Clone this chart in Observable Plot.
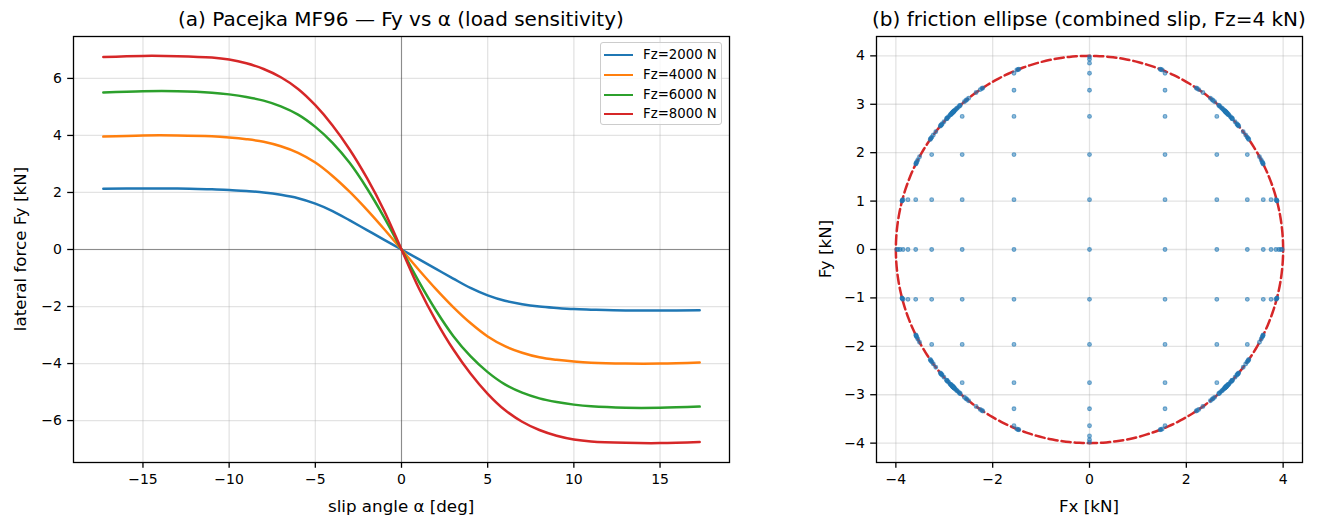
<!DOCTYPE html>
<html>
<head>
<meta charset="utf-8">
<script src="https://cdn.jsdelivr.net/npm/d3@7"></script>
<script src="https://cdn.jsdelivr.net/npm/@observablehq/plot@0.6"></script>
<style>
  html, body { margin: 0; padding: 0; background: #fff; }
  #fig { position: relative; width: 1318px; height: 528px; font-family: "DejaVu Sans", sans-serif; color: #000; overflow: hidden; }
  #fig svg { position: absolute; top: 0; }
  .lbl { position: absolute; white-space: nowrap; text-align: center; }
  .title { font-size: 20px; line-height: 24px; }
  .axlbl { font-size: 16.7px; line-height: 20px; }
  .legend { position: absolute; left: 600px; top: 42px; width: 122px; height: 83px; box-sizing: border-box;
            border: 1px solid #cccccc; border-radius: 3px; background: rgba(255,255,255,0.8); }
  .legend .row { position: absolute; left: 0; height: 20px; font-size: 13.3px; line-height: 20px; }
  .legend .sw { position: absolute; left: 3px; top: 9px; width: 29px; height: 2px; }
  .legend .tx { position: absolute; left: 42px; top: 0; white-space: nowrap; }
</style>
</head>
<body>
<div id="fig"></div>
<script>
// ---- (a) pure lateral slip, MF96 for four vertical loads ----
const alphaDeg = [-17.3, -15, -13, -11, -10, -9, -8, -7, -6, -5, -4, -3, -2, -1, 0,
                  1, 2, 3, 4, 5, 6, 7, 8, 9, 10, 11, 13, 15, 17.3];
const fy2000 = [2.13, 2.14, 2.14, 2.11, 2.09, 2.05, 2.00, 1.92, 1.80, 1.61, 1.35, 1.02, 0.68, 0.34, 0,
                -0.34, -0.68, -1.02, -1.35, -1.61, -1.80, -1.92, -2.00, -2.05, -2.09, -2.11, -2.14, -2.14, -2.13];
const fy4000 = [3.96, 4.00, 4.00, 3.97, 3.93, 3.87, 3.78, 3.62, 3.39, 3.05, 2.58, 2.02, 1.39, 0.71, 0,
                -0.71, -1.39, -2.02, -2.58, -3.05, -3.39, -3.62, -3.78, -3.87, -3.93, -3.97, -4.00, -4.00, -3.96];
const fy6000 = [5.51, 5.55, 5.55, 5.50, 5.44, 5.35, 5.22, 5.02, 4.73, 4.30, 3.74, 3.03, 2.14, 1.12, 0,
                -1.12, -2.14, -3.03, -3.74, -4.30, -4.73, -5.02, -5.22, -5.35, -5.44, -5.50, -5.55, -5.55, -5.51];
const fy8000 = [6.75, 6.79, 6.78, 6.73, 6.66, 6.53, 6.33, 6.04, 5.63, 5.06, 4.35, 3.50, 2.50, 1.35, 0,
                -1.35, -2.50, -3.50, -4.35, -5.06, -5.63, -6.04, -6.33, -6.53, -6.66, -6.73, -6.78, -6.79, -6.75];
const loadLabels = ["Fz=2000 N", "Fz=4000 N", "Fz=6000 N", "Fz=8000 N"];
const loadColors = ["#1f77b4", "#ff7f0e", "#2ca02c", "#d62728"];
const loadSeries = [fy2000, fy4000, fy6000, fy8000];
const xTicksA = [-15, -10, -5, 0, 5, 10, 15];
const yTicksA = [-6, -4, -2, 0, 2, 4, 6];

// ---- (b) combined slip at Fz = 4 kN ----
const fxLevels = [-3.98, -3.95, -3.91, -3.85, -3.75, -3.59, -3.26, -2.63, -1.56, 0,
                  1.56, 2.63, 3.26, 3.59, 3.75, 3.85, 3.91, 3.95, 3.98];
const fyLevels = [-3.98, -3.93, -3.85, -3.64, -3.29, -2.75, -1.96, -1.03, 0,
                  1.03, 1.96, 2.75, 3.29, 3.64, 3.85, 3.93, 3.98];
const muFz = 4; // friction limit, kN
const xTicksB = [-4, -2, 0, 2, 4];
const yTicksB = [-4, -3, -2, -1, 0, 1, 2, 3, 4];

const fmt = d3.format("d");
const font = "DejaVu Sans";
const gridStyle = {stroke: "#b0b0b0", strokeOpacity: 0.35, strokeWidth: 1.3};
const axisStyle = {tickSize: 5.8, tickPadding: 5.8, strokeWidth: 1.3, fontSize: 14, label: null, tickFormat: fmt};

const fig = document.getElementById("fig");

// panel (a)
const curveRows = loadSeries.map((s, k) => alphaDeg.map((a, i) => ({alpha: a, fy: s[i], k})));
const plotA = Plot.plot({
  width: 740, height: 528,
  marginLeft: 73, marginRight: 11, marginTop: 36, marginBottom: 66,
  style: {fontFamily: font, color: "#000", background: "transparent", overflow: "visible"},
  x: {domain: [-19.03, 19.03]},
  y: {domain: [-7.47, 7.47]},
  marks: [
    Plot.gridX(xTicksA, gridStyle),
    Plot.gridY(yTicksA, gridStyle),
    Plot.ruleY([0], {stroke: "#000", strokeOpacity: 0.38, strokeWidth: 1.1}),
    Plot.ruleX([0], {stroke: "#000", strokeOpacity: 0.38, strokeWidth: 1.1}),
    ...curveRows.map((rows, k) => Plot.line(rows, {
      x: "alpha", y: "fy", stroke: loadColors[k], strokeWidth: 2.5, curve: "catmull-rom"
    })),
    Plot.frame({stroke: "#000", strokeWidth: 1.3}),
    Plot.axisX(xTicksA, {...axisStyle, anchor: "bottom"}),
    Plot.axisY(yTicksA, {...axisStyle, anchor: "left"})
  ]
});
plotA.style.left = "0px";
fig.appendChild(plotA);

// panel (b): pure-slip grid, saturated combinations projected onto the friction circle
const combined = [];
for (const fx of fxLevels) {
  for (const fy of fyLevels) {
    const r = Math.hypot(fx, fy);
    const s = r > muFz ? muFz / r : 1;
    combined.push({fx: fx * s, fy: fy * s});
  }
}
const circle = d3.range(0, 361).map(t => ({
  fx: muFz * Math.cos(t * Math.PI / 180),
  fy: muFz * Math.sin(t * Math.PI / 180)
}));
const plotB = Plot.plot({
  width: 518, height: 528,
  marginLeft: 76, marginRight: 16, marginTop: 36, marginBottom: 66,
  style: {fontFamily: font, color: "#000", background: "transparent", overflow: "visible"},
  x: {domain: [-4.4, 4.4]},
  y: {domain: [-4.4, 4.4]},
  marks: [
    Plot.gridX(xTicksB, gridStyle),
    Plot.gridY(yTicksB, gridStyle),
    Plot.line(circle, {x: "fx", y: "fy", stroke: "#d62728", strokeWidth: 2.5, strokeDasharray: "9.2,4"}),
    Plot.dot(combined, {
      x: "fx", y: "fy", r: 1.9,
      fill: "#1f77b4", fillOpacity: 0.5,
      stroke: "#1f77b4", strokeOpacity: 0.6, strokeWidth: 1.1
    }),
    Plot.frame({stroke: "#000", strokeWidth: 1.3}),
    Plot.axisX(xTicksB, {...axisStyle, anchor: "bottom"}),
    Plot.axisY(yTicksB, {...axisStyle, anchor: "left"})
  ]
});
plotB.style.left = "800px";
fig.appendChild(plotB);

// titles, axis labels and legend
function label(text, cls, x, y, rotate) {
  const d = document.createElement("div");
  d.className = "lbl " + cls;
  d.textContent = text;
  fig.appendChild(d);
  const w = d.offsetWidth, h = d.offsetHeight;
  d.style.left = (x - w / 2) + "px";
  d.style.top = (y - h / 2) + "px";
  if (rotate) d.style.transform = "rotate(-90deg)";
}
label("(a) Pacejka MF96 \u2014 Fy vs \u03b1 (load sensitivity)", "title", 401, 19);
label("(b) friction ellipse (combined slip, Fz=4 kN)", "title", 1089, 19);
label("slip angle \u03b1 [deg]", "axlbl", 401, 506);
label("Fx [kN]", "axlbl", 1089, 506);
label("lateral force Fy [kN]", "axlbl", 20, 249, true);
label("Fy [kN]", "axlbl", 825, 249, true);

const legend = document.createElement("div");
legend.className = "legend";
loadLabels.forEach((t, k) => {
  const row = document.createElement("div");
  row.className = "row";
  row.style.top = Math.round(2 + k * 19.8) + "px";
  const sw = document.createElement("div");
  sw.className = "sw";
  sw.style.background = loadColors[k];
  const tx = document.createElement("div");
  tx.className = "tx";
  tx.textContent = t;
  row.appendChild(sw);
  row.appendChild(tx);
  legend.appendChild(row);
});
fig.appendChild(legend);
</script>
</body>
</html>
